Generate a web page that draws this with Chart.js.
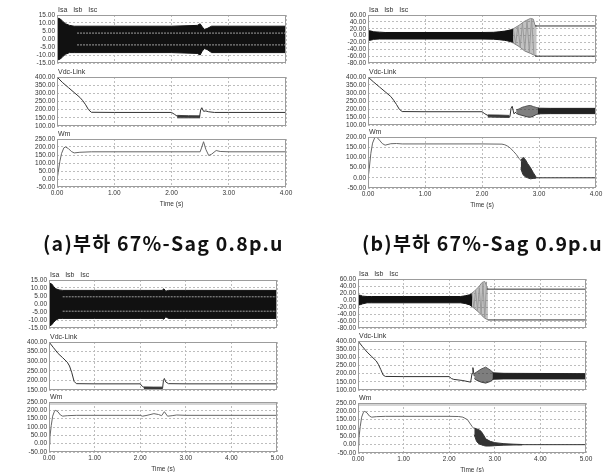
<!DOCTYPE html>
<html>
<head>
<meta charset="utf-8">
<script src="https://cdn.jsdelivr.net/npm/chart.js@4.4.0/dist/chart.umd.min.js"></script>
<style>
body{margin:0;width:613px;height:472px;background:#fff;position:relative;overflow:hidden;font-family:"Liberation Sans",Arial,sans-serif}
canvas{position:absolute}
.lbl{position:absolute;font-size:7px;line-height:8px;color:#333;white-space:pre}
.cap{position:absolute;font-family:"Noto Sans CJK KR",sans-serif;font-weight:700;font-size:19.5px;color:#111;white-space:pre;line-height:22px}
</style>
</head>
<body>
<script>
// ---- data ----
const captions = ['(a)부하 67%-Sag 0.8p.u', '(b)부하 67%-Sag 0.9p.u'];
const seriesNames = ['Isa   Isb   Isc', 'Vdc-Link', 'Wm'];
const xTitle = 'Time (s)';

// (a) top-left, 0..4 s
const aIsT  = [0, 0.02, 0.06, 0.1, 0.15, 0.22, 0.3, 1, 2, 2.45, 2.5, 2.53, 2.57, 2.62, 2.7, 3, 4];
const aIsHi = [11, 13, 12.5, 11, 9.5, 8.5, 8, 8, 8, 8.5, 9.5, 8, 6, 6.5, 8, 8, 8];
const aIsLo = [-11, -13, -12.5, -11, -9.5, -8.5, -8.5, -8.5, -8.5, -9, -10, -8, -6, -6.5, -8.5, -8.5, -8.5];
const aStreakT = [0.35, 4];
const aStreak = [3.7, -3.7];
const aVdcT = [0, 0.1, 0.2, 0.3, 0.4, 0.45, 0.5, 0.55, 0.6, 1, 2, 2.05, 2.1, 2.3, 2.49, 2.51, 2.53, 2.56, 2.6, 2.65, 2.75, 3, 4];
const aVdcV = [400, 365, 335, 305, 275, 255, 230, 200, 184, 183, 183, 172, 160, 157, 155, 200, 212, 190, 192, 187, 183, 183, 183];
const aVdcBandT = [2.1, 2.3, 2.5];
const aVdcBandHi = [165, 163, 162];
const aVdcBandLo = [150, 150, 150];
const aWmT = [0, 0.02, 0.05, 0.08, 0.12, 0.15, 0.2, 0.25, 0.3, 0.4, 0.6, 1, 2, 2.5, 2.53, 2.56, 2.6, 2.65, 2.7, 2.78, 2.85, 3, 4];
const aWmV = [-5, 40, 110, 160, 195, 200, 190, 172, 163, 167, 170, 170, 170, 170, 200, 233, 185, 147, 155, 178, 172, 170, 170];

// (b) top-right, 0..4 s
const bIsT  = [0, 0.02, 0.06, 0.1, 0.2, 0.3, 1, 2, 2.2, 2.3, 2.4, 2.5, 2.55];
const bIsHi = [10, 14, 13, 11, 10, 9, 9, 9, 9.5, 11, 13, 16, 18];
const bIsLo = [-10, -14, -13, -11, -10, -10, -10, -10, -10.5, -12, -14, -17, -19];
const bFanT  = [2.45, 2.55, 2.65, 2.75, 2.85, 2.9, 2.93, 2.96];
const bFanHi = [14, 20, 30, 42, 50, 48, 30, 28];
const bFanLo = [-15, -22, -32, -45, -52, -56, -58, -60];
const bZigT = [2.55, 2.59, 2.63, 2.67, 2.71, 2.75, 2.79, 2.83, 2.87, 2.91];
const bZigV = [18, -24, 27, -34, 38, -42, 45, -48, 50, -55];
const bTailT = [2.93, 4];
const bTailHi = [28, 28];
const bTailLo = [-60, -60];
const bVdcT = [0, 0.1, 0.2, 0.3, 0.4, 0.45, 0.5, 0.55, 0.6, 1, 2, 2.05, 2.1, 2.3, 2.49, 2.51, 2.53, 2.56, 2.6];
const bVdcV = [400, 368, 338, 308, 278, 255, 228, 198, 184, 183, 183, 170, 160, 157, 152, 205, 217, 170, 182];
const bVdcBandT = [2.1, 2.3, 2.48];
const bVdcBandHi = [163, 162, 160];
const bVdcBandLo = [150, 148, 147];
const bVdcOscT  = [2.6, 2.65, 2.7, 2.75, 2.8, 2.85, 2.9, 2.95, 3.0];
const bVdcOscHi = [195, 200, 210, 215, 220, 222, 215, 210, 205];
const bVdcOscLo = [172, 165, 160, 155, 150, 148, 155, 165, 170];
const bVdcSteadyT  = [2.98, 3.2, 4];
const bVdcSteadyHi = [205, 204, 204];
const bVdcSteadyLo = [170, 171, 171];
const bWmT = [0, 0.02, 0.05, 0.08, 0.12, 0.15, 0.2, 0.25, 0.3, 0.4, 0.5, 0.6, 1, 2, 2.35, 2.4, 2.45, 2.5, 2.55, 2.6, 2.65, 2.7];
const bWmV = [-5, 40, 120, 170, 198, 200, 185, 168, 160, 167, 168, 166, 166, 166, 165, 162, 155, 145, 130, 115, 95, 80];
const bWmBandT  = [2.68, 2.72, 2.76, 2.8, 2.85, 2.9, 2.95];
const bWmBandHi = [85, 100, 90, 70, 50, 25, 3];
const bWmBandLo = [45, 15, 5, 0, -5, -3, -1];
const bWmTailT = [2.9, 4];
const bWmTailV = [0, 0];

// (c) bottom-left, 0..5 s
const cIsT  = [0, 0.02, 0.06, 0.1, 0.15, 0.22, 0.3, 1, 2, 2.48, 2.52, 2.56, 2.62, 3, 5];
const cIsHi = [11, 13, 12.5, 11, 9.5, 8.8, 8.5, 8.5, 8.5, 8.5, 9.5, 8, 8.5, 8.5, 8.5];
const cIsLo = [-11, -13.5, -13, -11.5, -10, -9, -9, -9, -9, -9, -9.5, -8, -9, -9, -9];
const cStreakT = [0.3, 5];
const cStreak = [4.5, -4.5];
const cVdcT = [0, 0.1, 0.2, 0.3, 0.4, 0.45, 0.5, 0.55, 0.6, 1, 2, 2.05, 2.1, 2.3, 2.49, 2.51, 2.53, 2.56, 2.62, 3, 5];
const cVdcV = [400, 370, 340, 318, 295, 275, 240, 195, 183, 182, 182, 168, 162, 160, 158, 200, 210, 192, 183, 182, 182];
const cVdcBandT = [2.08, 2.3, 2.49];
const cVdcBandHi = [166, 165, 165];
const cVdcBandLo = [155, 154, 154];
const cWmT = [0, 0.02, 0.05, 0.08, 0.12, 0.15, 0.2, 0.25, 0.3, 0.4, 0.6, 1, 2, 2.05, 2.15, 2.3, 2.4, 2.47, 2.53, 2.6, 2.7, 2.8, 3, 5];
const cWmV = [-5, 40, 110, 165, 195, 200, 190, 172, 165, 168, 170, 170, 170, 165, 170, 180, 175, 168, 192, 165, 168, 172, 170, 170];

// (d) bottom-right, 0..5 s
const dIsT  = [0, 0.02, 0.06, 0.1, 0.2, 0.3, 1, 2, 2.25, 2.35, 2.45, 2.5];
const dIsHi = [10, 14, 13, 11, 10, 10, 10, 10, 10, 12, 15, 18];
const dIsLo = [-10, -14, -13, -11, -8, -8, -8, -8, -8, -10, -14, -18];
const dFanT  = [2.45, 2.55, 2.65, 2.72, 2.78, 2.82, 2.85];
const dFanHi = [15, 25, 38, 50, 53, 40, 31];
const dFanLo = [-14, -24, -35, -45, -52, -55, -57];
const dZigT = [2.5, 2.54, 2.58, 2.62, 2.66, 2.7, 2.74, 2.78, 2.82];
const dZigV = [20, -22, 28, -30, 35, -40, 48, -50, 52];
const dTailHiT = [2.82, 5];
const dTailHi = [31, 31];
const dTailLoT = [2.85, 5];
const dTailLo = [-57, -57];
const dVdcT = [0, 0.1, 0.2, 0.3, 0.4, 0.45, 0.5, 0.55, 0.6, 1, 2, 2.05, 2.1, 2.3, 2.47, 2.5, 2.52, 2.55];
const dVdcV = [400, 365, 332, 305, 278, 255, 225, 192, 183, 182, 182, 170, 165, 158, 148, 200, 237, 185];
const dVdcOscT  = [2.55, 2.6, 2.7, 2.8, 2.9, 2.97];
const dVdcOscHi = [200, 210, 228, 240, 222, 205];
const dVdcOscLo = [170, 160, 148, 142, 152, 166];
const dVdcSteadyT  = [2.95, 3.2, 5];
const dVdcSteadyHi = [205, 202, 200];
const dVdcSteadyLo = [166, 168, 168];
const dWmT = [0, 0.02, 0.05, 0.08, 0.12, 0.15, 0.2, 0.25, 0.3, 0.4, 0.6, 1, 2, 2.2, 2.3, 2.4, 2.45, 2.5, 2.55];
const dWmV = [-5, 40, 110, 165, 195, 200, 190, 172, 165, 168, 170, 170, 170, 169, 165, 150, 130, 110, 95];
const dWmBandT  = [2.55, 2.6, 2.65, 2.7, 2.75, 2.8, 2.9, 3.0, 3.2, 3.4, 3.6];
const dWmBandHi = [100, 95, 90, 80, 60, 35, 20, 12, 6, 3, 1];
const dWmBandLo = [60, 20, 5, 0, -5, -8, -8, -6, -3, -2, -1];
const dWmTailT = [3.5, 5];
const dWmTailV = [0, 0];

// ---- helpers ----
const pts = (t, v) => t.map((x, i) => ({x: x, y: v[i]}));
function line(t, v, color, dash) {
    return {data: pts(t, v), borderColor: color, borderWidth: 1, borderDash: dash || [], fill: false, pointRadius: 0};
}
function flat(t, v, color, dash) {
    return line(t, t.map(() => v), color, dash);
}
function band(t, hi, lo, color, edge) {
    return [
        {data: pts(t, hi), borderColor: edge || color, borderWidth: 1, backgroundColor: color, fill: '+1', pointRadius: 0},
        {data: pts(t, lo), borderColor: edge || color, borderWidth: 1, fill: false, pointRadius: 0}
    ];
}

const tickFont = {family: '"Liberation Sans", Arial, sans-serif', size: 6.5, lineHeight: '8px'};
const gridOpts = {color: '#bdbdbd', drawTicks: false};

const frame = {
    id: 'frame',
    afterDraw(ch, args, o) {
        const a = ch.chartArea, c = ch.ctx;
        c.save();
        if (o.topBand) {
            c.fillStyle = '#d4d4d4';
            c.fillRect(a.left, a.top, a.right - a.left, 3);
        }
        c.strokeStyle = '#9c9c9c';
        c.lineWidth = 1;
        c.strokeRect(a.left + 0.5, a.top + 0.5, a.right - a.left - 1, a.bottom - a.top - 1);
        c.restore();
    }
};

function config(yMin, yMax, step, xMax, datasets, showX, topBand) {
    return {
        type: 'line',
        data: {datasets: datasets},
        options: {
            responsive: false,
            animation: false,
            events: [],
            layout: {padding: {top: 5, right: 10, bottom: 5, left: 0}},
            plugins: {legend: {display: false}, tooltip: {enabled: false}, frame: {topBand: topBand}},
            elements: {line: {tension: 0}, point: {radius: 0}},
            scales: {
                x: {
                    type: 'linear', min: 0, max: xMax,
                    grid: gridOpts,
                    border: {display: false, dash: [2, 2]},
                    ticks: {display: showX, stepSize: 1, autoSkip: false, maxRotation: 0, padding: 2,
                        font: tickFont, color: '#333', callback: v => v.toFixed(2)},
                    title: {display: showX, text: xTitle, color: '#333', padding: {top: 1, bottom: 0},
                        font: {family: '"Liberation Sans", Arial, sans-serif', size: 6.5, lineHeight: '8px'}}
                },
                y: {
                    min: yMin, max: yMax,
                    grid: gridOpts,
                    border: {display: false, dash: [2, 2]},
                    ticks: {stepSize: step, autoSkip: false, padding: 2, font: tickFont, color: '#333',
                        callback: v => v.toFixed(2)},
                    afterFit: s => { s.width = 44; }
                }
            }
        },
        plugins: [frame]
    };
}

function sub(box, yMin, yMax, step, xMax, makeSets, showX, topBand) {
    const c = document.createElement('canvas');
    document.body.appendChild(c);
    c.width = box.w + 54;
    c.height = box.h + (showX ? 40 : 10);
    let ch = new Chart(c, config(yMin, yMax, step, xMax, makeSets(), showX, topBand));
    const a = ch.chartArea;
    const w = c.width + box.w - (a.right - a.left);
    const h = c.height + box.h - (a.bottom - a.top);
    ch.destroy();
    c.width = Math.round(w);
    c.height = Math.round(h);
    ch = new Chart(c, config(yMin, yMax, step, xMax, makeSets(), showX, topBand));
    const b = ch.chartArea;
    c.style.left = Math.round(box.x - b.left) + 'px';
    c.style.top = Math.round(box.y - b.top) + 'px';
}

function label(text, x, y, cls) {
    const d = document.createElement('div');
    d.className = cls || 'lbl';
    d.textContent = text;
    d.style.left = x + 'px';
    d.style.top = y + 'px';
    document.body.appendChild(d);
    return d;
}

// caption stretched to the width it has in the picture
function caption(text, left, width, top) {
    const d = label(text, left, top, 'cap');
    const n = text.length;
    const ls = (width - d.offsetWidth) / n;
    d.style.letterSpacing = ls.toFixed(2) + 'px';
}

const BAND = '#111', STREAK = '#a0a0a0', VDC = '#333', WM = '#666', FAN = 'rgba(80,80,80,0.35)', FANEDGE = '#8a8a8a';

// ---- layout of the twelve plot areas ----
const panels = [
    {x: 57, w: 229, tops: [15, 77, 139], hs: [48, 49, 48], xMax: 4},
    {x: 368, w: 228, tops: [15, 77, 137], hs: [48, 48, 51], xMax: 4},
    {x: 49, w: 228, tops: [280, 342, 402], hs: [48, 48, 50], xMax: 5},
    {x: 358, w: 228, tops: [279, 341, 403], hs: [49, 49, 50], xMax: 5}
];
const bx = (p, i) => ({x: p.x, y: p.tops[i], w: p.w, h: p.hs[i]});
const [pA, pB, pC, pD] = panels;

// (a)
sub(bx(pA, 0), -15, 15, 5, 4, () => [
    flat(aStreakT, aStreak[0], STREAK, [2, 1]), flat(aStreakT, aStreak[1], STREAK, [2, 1]),
    ...band(aIsT, aIsHi, aIsLo, BAND)], false, false);
sub(bx(pA, 1), 100, 400, 50, 4, () => [
    line(aVdcT, aVdcV, VDC), ...band(aVdcBandT, aVdcBandHi, aVdcBandLo, '#444')], false, false);
sub(bx(pA, 2), -50, 250, 50, 4, () => [line(aWmT, aWmV, WM)], true, false);

// (b)
sub(bx(pB, 0), -80, 60, 20, 4, () => [
    line(bZigT, bZigV, '#999'),
    line(bTailT, bTailHi, '#333'), line(bTailT, bTailLo, '#333'),
    ...band(bIsT, bIsHi, bIsLo, BAND),
    ...band(bFanT, bFanHi, bFanLo, FAN, FANEDGE)], false, false);
sub(bx(pB, 1), 100, 400, 50, 4, () => [
    line(bVdcT, bVdcV, VDC),
    ...band(bVdcBandT, bVdcBandHi, bVdcBandLo, '#444'),
    ...band(bVdcSteadyT, bVdcSteadyHi, bVdcSteadyLo, '#222'),
    ...band(bVdcOscT, bVdcOscHi, bVdcOscLo, 'rgba(40,40,40,0.6)', '#555')], false, false);
sub(bx(pB, 2), -50, 200, 50, 4, () => [
    line(bWmT, bWmV, WM), line(bWmTailT, bWmTailV, '#333'),
    ...band(bWmBandT, bWmBandHi, bWmBandLo, '#333')], true, false);

// (c)
sub(bx(pC, 0), -15, 15, 5, 5, () => [
    flat(cStreakT, cStreak[0], STREAK, [2, 1]), flat(cStreakT, cStreak[1], STREAK, [2, 1]),
    ...band(cIsT, cIsHi, cIsLo, BAND)], false, false);
sub(bx(pC, 1), 150, 400, 50, 5, () => [
    line(cVdcT, cVdcV, VDC), ...band(cVdcBandT, cVdcBandHi, cVdcBandLo, '#444')], false, false);
sub(bx(pC, 2), -50, 250, 50, 5, () => [line(cWmT, cWmV, WM)], true, true);

// (d)
sub(bx(pD, 0), -80, 60, 20, 5, () => [
    line(dZigT, dZigV, '#999'),
    line(dTailHiT, dTailHi, '#333'), line(dTailLoT, dTailLo, '#333'),
    ...band(dIsT, dIsHi, dIsLo, BAND),
    ...band(dFanT, dFanHi, dFanLo, FAN, FANEDGE)], false, false);
sub(bx(pD, 1), 100, 400, 50, 5, () => [
    line(dVdcT, dVdcV, VDC),
    ...band(dVdcSteadyT, dVdcSteadyHi, dVdcSteadyLo, '#222'),
    ...band(dVdcOscT, dVdcOscHi, dVdcOscLo, 'rgba(40,40,40,0.6)', '#555')], false, false);
sub(bx(pD, 2), -50, 250, 50, 5, () => [
    line(dWmT, dWmV, WM), line(dWmTailT, dWmTailV, '#333'),
    ...band(dWmBandT, dWmBandHi, dWmBandLo, '#333')], true, true);

// series names above each plot
panels.forEach(p => {
    seriesNames.forEach((s, i) => label(s, p.x + 1, p.tops[i] - 9));
});

// captions under the upper pair
caption(captions[0], 43, 241, 232);
caption(captions[1], 362, 241, 232);
</script>
</body>
</html>
